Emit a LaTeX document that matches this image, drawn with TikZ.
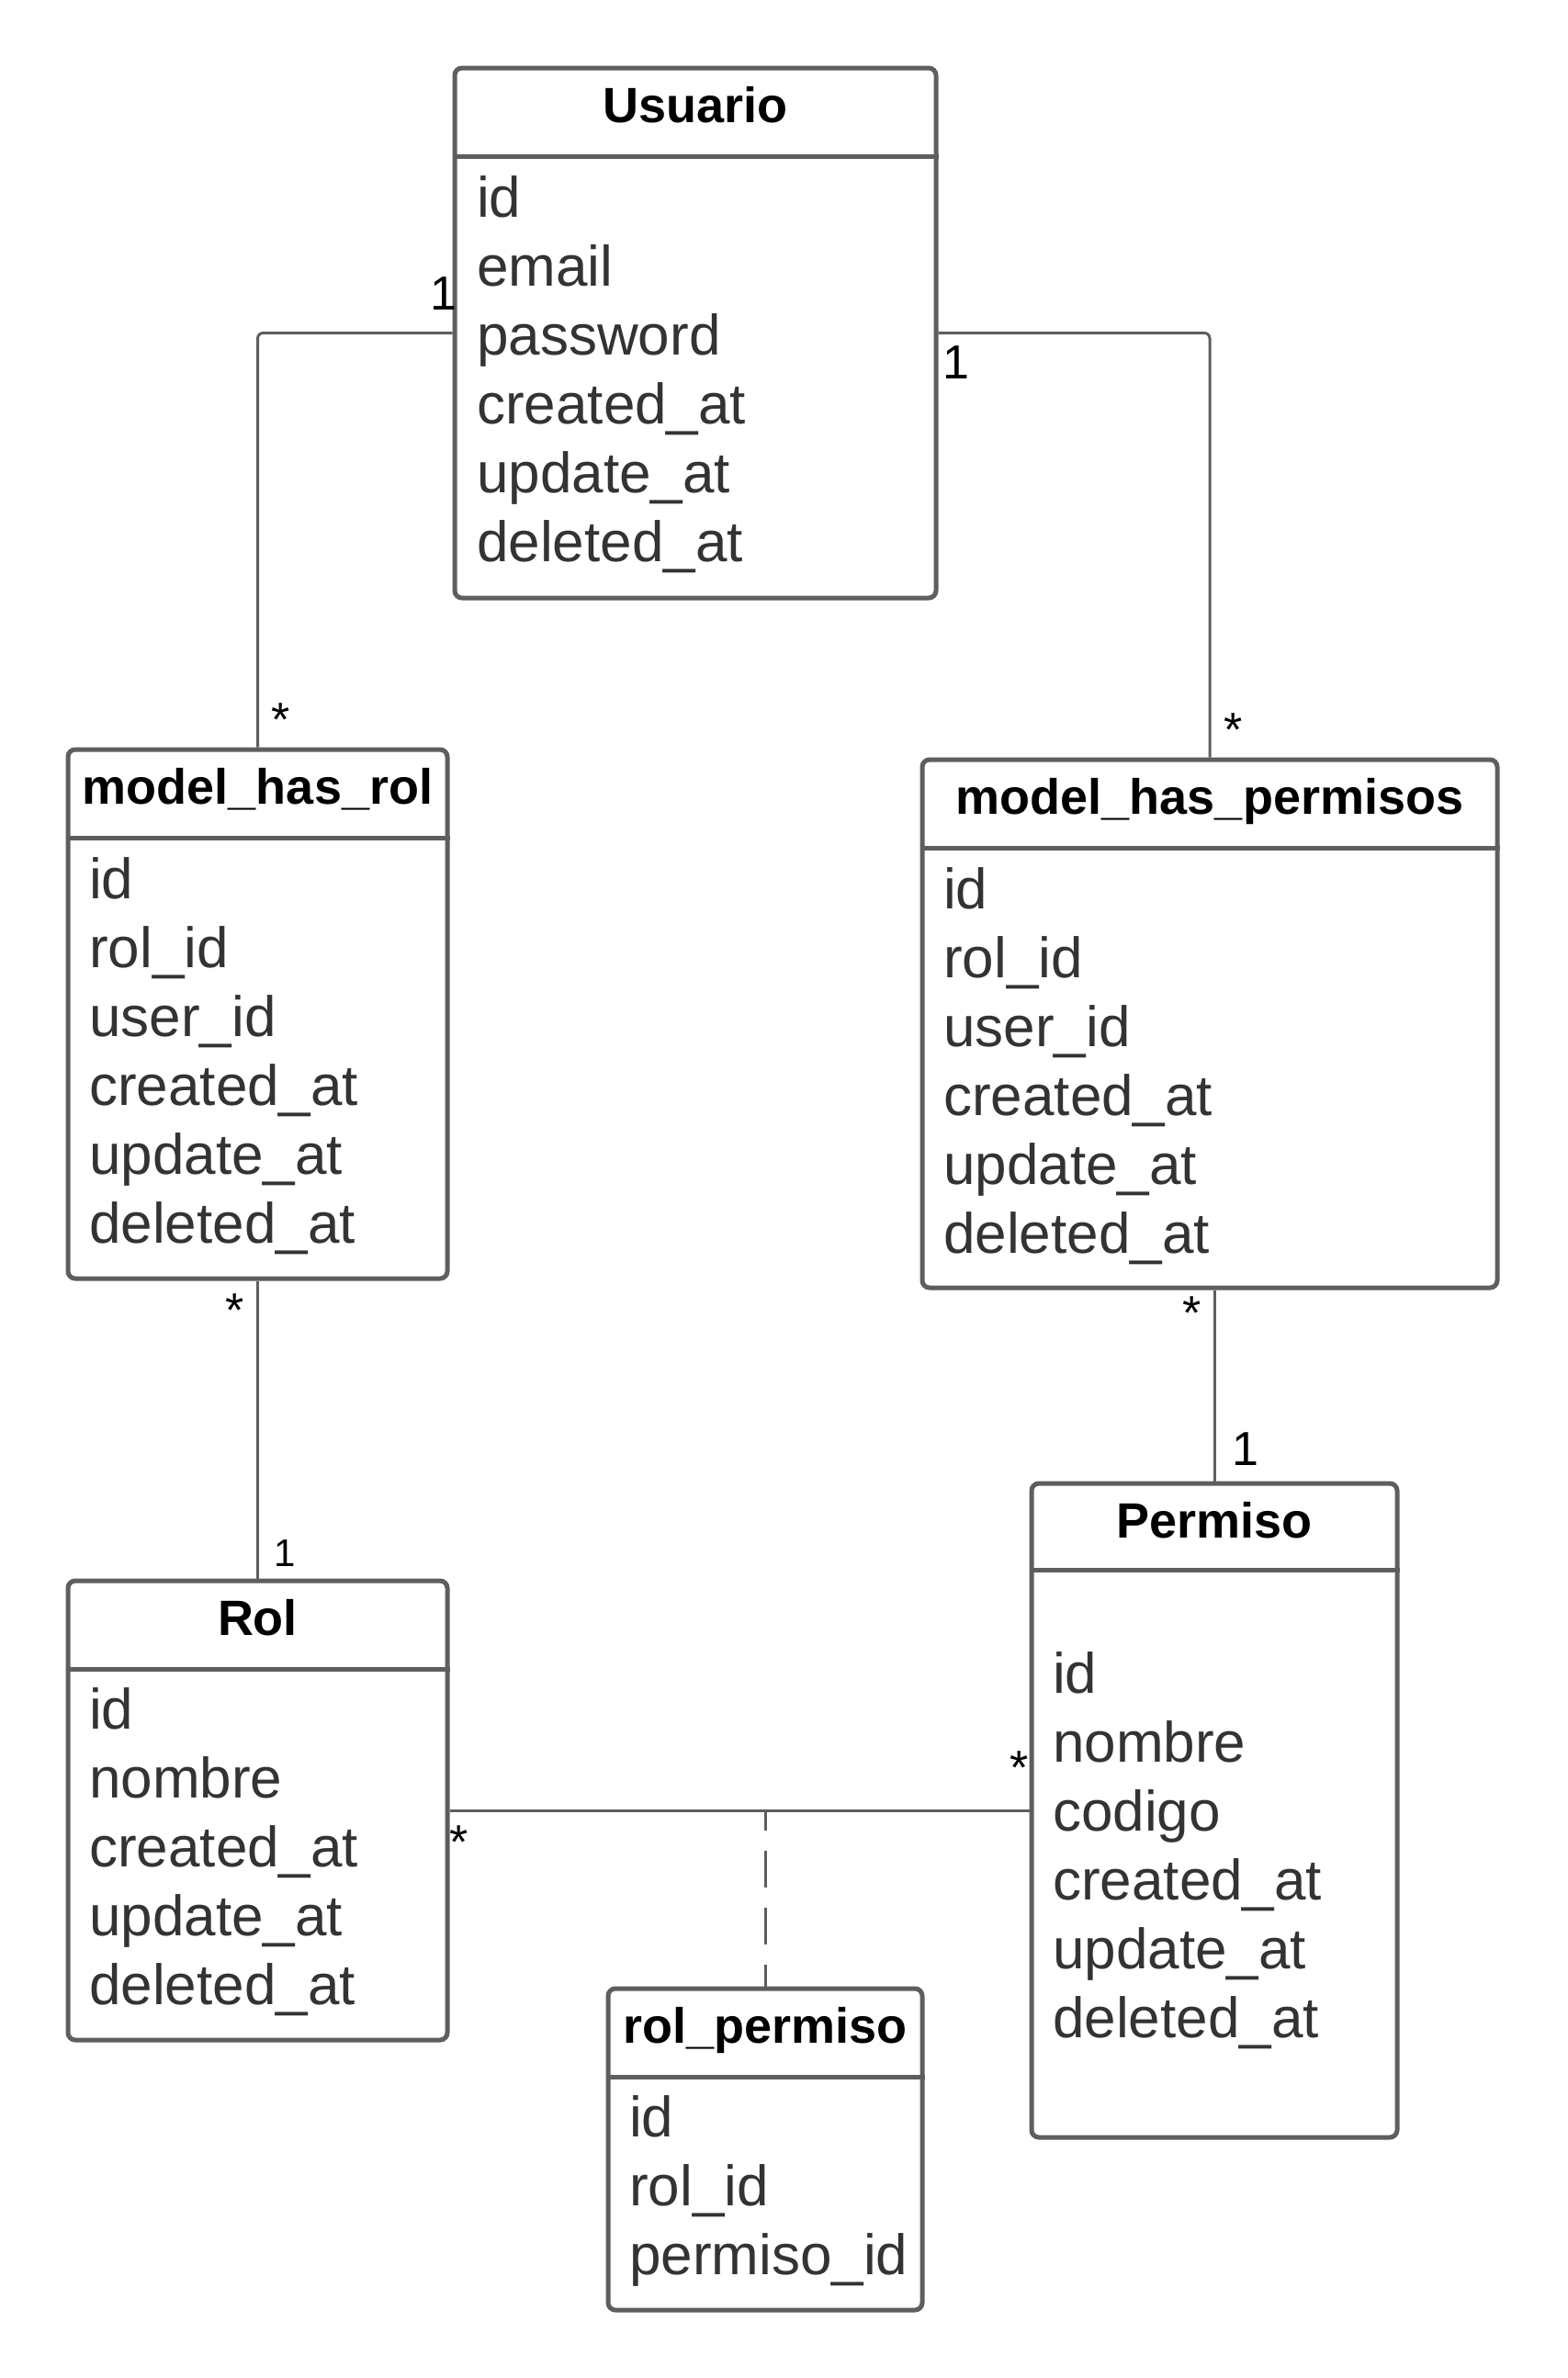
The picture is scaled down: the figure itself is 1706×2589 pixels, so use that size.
\documentclass[tikz,border=0pt]{standalone}
\usepackage{fontspec}
\setmainfont{Liberation Sans}
\usetikzlibrary{positioning}
\definecolor{boxgray}{HTML}{5E5E5E}
\definecolor{fieldgray}{HTML}{333333}
\tikzset{
    classbox/.style = {draw=boxgray, line width=5pt, rounded corners=8pt, inner sep=0pt},
    headline/.style = {draw=boxgray, line width=5pt},
    classtitle/.style = {font=\fontsize{54}{60}\selectfont\bfseries, inner sep=0pt, anchor=base},
    field/.style = {font=\fontsize{62}{70}\selectfont, text=fieldgray, inner sep=0pt, anchor=base west},
    mult/.style = {font=\fontsize{52}{60}\selectfont, inner sep=0pt, anchor=base},
    link/.style = {draw=boxgray, line width=3pt},
}

\begin{document}
\begin{tikzpicture}[x=1pt, y=-1pt]
                \fill[white] (0, 0) rectangle (1706, 2589);

                % Usuario
                \node[classbox, minimum width=524pt, minimum height=577pt] (usuario) at (757, 362.5) {};
                \draw[headline] (usuario.west |- 0, 170) -- (usuario.east |- 0, 170);
                \node[classtitle] (usuario title) at (757, 133) {Usuario};
                \node[field] (usuario f1) at (519, 236) {id};
                \node[field] (usuario f2) at (519, 311) {email};
                \node[field] (usuario f3) at (519, 386) {password};
                \node[field] (usuario f4) at (519, 461) {created\_at};
                \node[field] (usuario f5) at (519, 536) {update\_at};
                \node[field] (usuario f6) at (519, 611) {deleted\_at};

                % model_has_rol
                \node[classbox, minimum width=413pt, minimum height=576pt] (mhrol) at (280.5, 1104) {};
                \draw[headline] (mhrol.west |- 0, 912) -- (mhrol.east |- 0, 912);
                \node[classtitle] (mhrol title) at (280.5, 875) {model\_has\_rol};
                \node[field] (mhrol f1) at (97, 978) {id};
                \node[field] (mhrol f2) at (97, 1053) {rol\_id};
                \node[field] (mhrol f3) at (97, 1128) {user\_id};
                \node[field] (mhrol f4) at (97, 1203) {created\_at};
                \node[field] (mhrol f5) at (97, 1278) {update\_at};
                \node[field] (mhrol f6) at (97, 1353) {deleted\_at};

                % model_has_permisos
                \node[classbox, minimum width=626pt, minimum height=575pt] (mhperm) at (1317, 1114.5) {};
                \draw[headline] (mhperm.west |- 0, 923) -- (mhperm.east |- 0, 923);
                \node[classtitle] (mhperm title) at (1317, 886) {model\_has\_permisos};
                \node[field] (mhperm f1) at (1027, 989) {id};
                \node[field] (mhperm f2) at (1027, 1064) {rol\_id};
                \node[field] (mhperm f3) at (1027, 1139) {user\_id};
                \node[field] (mhperm f4) at (1027, 1214) {created\_at};
                \node[field] (mhperm f5) at (1027, 1289) {update\_at};
                \node[field] (mhperm f6) at (1027, 1364) {deleted\_at};

                % Rol
                \node[classbox, minimum width=413pt, minimum height=500pt] (rol) at (280.5, 1971) {};
                \draw[headline] (rol.west |- 0, 1817) -- (rol.east |- 0, 1817);
                \node[classtitle] (rol title) at (280.5, 1780) {Rol};
                \node[field] (rol f1) at (97, 1882) {id};
                \node[field] (rol f2) at (97, 1957) {nombre};
                \node[field] (rol f3) at (97, 2032) {created\_at};
                \node[field] (rol f4) at (97, 2107) {update\_at};
                \node[field] (rol f5) at (97, 2182) {deleted\_at};

                % Permiso
                \node[classbox, minimum width=398pt, minimum height=712pt] (permiso) at (1322, 1971) {};
                \draw[headline] (permiso.west |- 0, 1709) -- (permiso.east |- 0, 1709);
                \node[classtitle] (permiso title) at (1322, 1674) {Permiso};
                \node[field] (permiso f1) at (1146, 1843) {id};
                \node[field] (permiso f2) at (1146, 1918) {nombre};
                \node[field] (permiso f3) at (1146, 1993) {codigo};
                \node[field] (permiso f4) at (1146, 2068) {created\_at};
                \node[field] (permiso f5) at (1146, 2143) {update\_at};
                \node[field] (permiso f6) at (1146, 2218) {deleted\_at};

                % rol_permiso
                \node[classbox, minimum width=342pt, minimum height=350pt] (rolperm) at (833, 2340) {};
                \draw[headline] (rolperm.west |- 0, 2261) -- (rolperm.east |- 0, 2261);
                \node[classtitle] (rolperm title) at (833, 2224) {rol\_permiso};
                \node[field] (rolperm f1) at (685, 2326) {id};
                \node[field] (rolperm f2) at (685, 2401) {rol\_id};
                \node[field] (rolperm f3) at (685, 2476) {permiso\_id};

                % associations
                \draw[link, rounded corners=6pt] (usuario.west) -| (mhrol.north);
                \draw[link, rounded corners=6pt] (usuario.east) -| (mhperm.north);
                \draw[link] (mhrol.south) -- (rol.north);
                \draw[link] (permiso.north |- mhperm.south) -- (permiso.north);
                \draw[link] (rol.east) -- (permiso.west);
                \coordinate (assoc) at (rolperm.north |- rol.east);
                \draw[link, dash pattern=on 40pt off 22pt, dash phase=18pt] (assoc) -- (rolperm.north);

                % multiplicities
                \node[mult] (m usuario l) at (483, 337) {1};
                \node[mult] (m usuario r) at (1041, 412) {1};
                \node[mult] (m mhrol t) at (306, 801) {*};
                \node[mult] (m mhperm t) at (1343, 812) {*};
                \node[mult] (m mhrol b) at (256, 1444) {*};
                \node[mult, font=\fontsize{42}{50}\selectfont] (m rol t) at (310, 1705) {1};
                \node[mult] (m mhperm b) at (1298, 1447) {*};
                \node[mult] (m permiso t) at (1356, 1595) {1};
                \node[mult] (m rol r) at (500, 2023) {*};
                \node[mult] (m permiso l) at (1110, 1942) {*};
            \end{tikzpicture}
\end{document}
